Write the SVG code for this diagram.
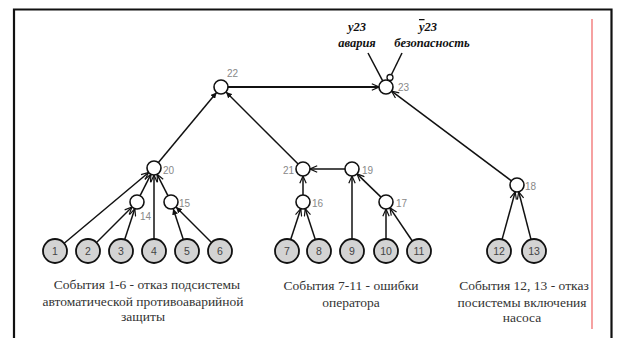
<svg xmlns="http://www.w3.org/2000/svg" width="617" height="338" viewBox="0 0 617 338">
<style>
.frame{stroke:#111;stroke-width:2.2;fill:none}
.red{stroke:#f27a7a;stroke-width:1.4}
.e{stroke:#111;stroke-width:1.5;fill:none}
.ea{marker-end:url(#open)}
.ef{marker-end:url(#filled)}
.n{fill:#fff;stroke:#111;stroke-width:1.6}
.leaf{fill:#d3d3d3;stroke:#111;stroke-width:1.8}
.nl{font-family:"Liberation Sans",Arial,sans-serif;font-size:10px;fill:#888}
.ll{font-family:"Liberation Sans",Arial,sans-serif;font-size:10.5px;fill:#444;text-anchor:middle}
.cap{font-family:"Liberation Serif","Times New Roman",serif;font-size:13.5px;fill:#333;text-anchor:middle}
.top{font-family:"Liberation Serif","Times New Roman",serif;font-size:12.5px;font-weight:bold;font-style:italic;fill:#111;text-anchor:middle}
</style>
<defs>
<marker id="open" viewBox="0 0 10 10" refX="10" refY="5" markerWidth="8" markerHeight="8" markerUnits="userSpaceOnUse" orient="auto">
<path d="M1,1 L10,5 L1,9" fill="none" stroke="#111" stroke-width="1.5"/>
</marker>
<marker id="filled" viewBox="0 0 10 10" refX="10" refY="5" markerWidth="6" markerHeight="6" markerUnits="userSpaceOnUse" orient="auto">
<path d="M0,0 L10,5 L0,10 z" fill="#111"/>
</marker>
</defs>
<rect width="617" height="338" fill="#fff"/>
<g id="frame">
<path class="frame" d="M14,340 L14,9.5 L611.5,9.5 L611.5,340"/>
<line class="red" x1="592" y1="19" x2="592" y2="329"/>
</g>
<g id="connectors">
<line class="e ea" x1="64.2" y1="243.3" x2="148.6" y2="172.5"/>
<line class="e ea" x1="96.5" y1="242.5" x2="132" y2="207"/>
<line class="e ea" x1="124.7" y1="239.6" x2="134.8" y2="208.7"/>
<line class="e ea" x1="154" y1="239" x2="154" y2="175"/>
<line class="e ef" x1="183.3" y1="239.6" x2="173.2" y2="208.7"/>
<line class="e ef" x1="211.5" y1="242.5" x2="176" y2="207"/>
<line class="e ea" x1="140.1" y1="195.7" x2="150.9" y2="174.3"/>
<line class="e ea" x1="167.9" y1="195.7" x2="157.1" y2="174.3"/>
<line class="e ea" x1="290.7" y1="239.6" x2="300.8" y2="208.7"/>
<line class="e ea" x1="315.3" y1="239.6" x2="305.2" y2="208.7"/>
<line class="e ea" x1="303" y1="195" x2="303" y2="176"/>
<line class="e ea" x1="352" y1="239" x2="352" y2="176"/>
<line class="e ea" x1="386" y1="239" x2="386" y2="209"/>
<line class="e ea" x1="412.3" y1="241" x2="389.9" y2="207.8"/>
<line class="e ea" x1="381" y1="197.1" x2="357" y2="173.9"/>
<line class="e ea" x1="345" y1="169" x2="310" y2="169"/>
<line class="e ea" x1="502.1" y1="239.4" x2="515.2" y2="191.8"/>
<line class="e ea" x1="531" y1="239.4" x2="518.7" y2="191.8"/>
<line class="e ef" x1="158.4" y1="162.6" x2="216.6" y2="92.4"/>
<line class="e ef" x1="298.1" y1="164" x2="226" y2="92"/>
<line class="e ea" x1="228" y1="87" x2="379" y2="87" style="stroke-width:1.9"/>
<line class="e ea" x1="511.4" y1="180.8" x2="391.6" y2="91.2"/>
<line class="e" x1="368" y1="53" x2="382.7" y2="80.8"/>
<line class="e" x1="402" y1="53" x2="391.5" y2="74.5"/>
</g>
<g id="n22"><circle class="n" cx="221" cy="87" r="7"/><text class="nl" x="227" y="77">22</text></g>
<g id="n23"><circle class="n" cx="386" cy="87" r="7"/><circle cx="390" cy="77.5" r="3" fill="#fff" stroke="#111" stroke-width="1.3"/><text class="nl" x="398" y="91">23</text></g>
<g id="n20"><circle class="n" cx="154" cy="168" r="7"/><text class="nl" x="163" y="174">20</text></g>
<g id="n14"><circle class="n" cx="137" cy="202" r="7"/><text class="nl" x="140" y="220">14</text></g>
<g id="n15"><circle class="n" cx="171" cy="202" r="7"/><text class="nl" x="179" y="207">15</text></g>
<g id="n21"><circle class="n" cx="303" cy="169" r="7"/><text class="nl" x="283" y="174">21</text></g>
<g id="n19"><circle class="n" cx="352" cy="169" r="7"/><text class="nl" x="362" y="174">19</text></g>
<g id="n16"><circle class="n" cx="303" cy="202" r="7"/><text class="nl" x="312" y="207">16</text></g>
<g id="n17"><circle class="n" cx="386" cy="202" r="7"/><text class="nl" x="396" y="207">17</text></g>
<g id="n18"><circle class="n" cx="517" cy="185" r="7"/><text class="nl" x="525" y="190">18</text></g>
<g id="n1"><circle class="leaf" cx="55" cy="251" r="12"/><text class="ll" x="55" y="255">1</text></g>
<g id="n2"><circle class="leaf" cx="88" cy="251" r="12"/><text class="ll" x="88" y="255">2</text></g>
<g id="n3"><circle class="leaf" cx="121" cy="251" r="12"/><text class="ll" x="121" y="255">3</text></g>
<g id="n4"><circle class="leaf" cx="154" cy="251" r="12"/><text class="ll" x="154" y="255">4</text></g>
<g id="n5"><circle class="leaf" cx="187" cy="251" r="12"/><text class="ll" x="187" y="255">5</text></g>
<g id="n6"><circle class="leaf" cx="220" cy="251" r="12"/><text class="ll" x="220" y="255">6</text></g>
<g id="n7"><circle class="leaf" cx="287" cy="251" r="12"/><text class="ll" x="287" y="255">7</text></g>
<g id="n8"><circle class="leaf" cx="319" cy="251" r="12"/><text class="ll" x="319" y="255">8</text></g>
<g id="n9"><circle class="leaf" cx="352" cy="251" r="12"/><text class="ll" x="352" y="255">9</text></g>
<g id="n10"><circle class="leaf" cx="386" cy="251" r="12"/><text class="ll" x="386" y="255">10</text></g>
<g id="n11"><circle class="leaf" cx="419" cy="251" r="12"/><text class="ll" x="419" y="255">11</text></g>
<g id="n12"><circle class="leaf" cx="499" cy="251" r="12"/><text class="ll" x="499" y="255">12</text></g>
<g id="n13"><circle class="leaf" cx="534" cy="251" r="12"/><text class="ll" x="534" y="255">13</text></g>
<g id="labels-top">
<text class="top" x="357" y="31">y23</text>
<text class="top" x="357" y="47">авария</text>
<text class="top" x="428" y="31"><tspan style="text-decoration:overline">y</tspan>23</text>
<text class="top" x="432" y="47">безопасность</text>
</g>
<g id="captions">
<text class="cap" x="147" y="289">События 1-6 - отказ подсистемы</text>
<text class="cap" x="143" y="306">автоматической противоаварийной</text>
<text class="cap" x="143" y="321">защиты</text>
<text class="cap" x="351" y="290">События 7-11 - ошибки</text>
<text class="cap" x="351" y="307">оператора</text>
<text class="cap" x="524" y="290">События 12, 13 - отказ</text>
<text class="cap" x="522" y="307">посистемы включения</text>
<text class="cap" x="522" y="322">насоса</text>
</g>
</svg>
